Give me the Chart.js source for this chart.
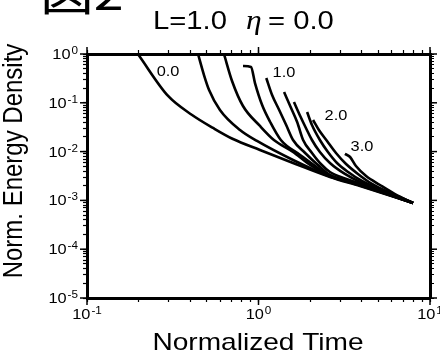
<!DOCTYPE html>
<html>
<head>
<meta charset="utf-8">
<script src="https://cdn.jsdelivr.net/npm/chart.js@4.4.1/dist/chart.umd.min.js"></script>
<style>
  html, body { margin: 0; padding: 0; background: #fff; }
</style>
</head>
<body>
<canvas id="decayChart" width="440" height="358"></canvas>
<script>
// energy decay curves: normalized time / normalized energy density
const t000 = [0.198, 0.297, 0.410, 0.543, 0.710, 1.02, 1.59, 2.61, 3.91, 7.96]
const e000 = [1.0, 0.138, 0.0562, 0.0305, 0.0181, 0.0108, 0.00584, 0.00302, 0.00197, 0.000885]
const t025 = [0.444, 0.481, 0.515, 0.596, 0.780, 0.980, 1.59, 2.61, 3.91, 7.96]
const e025 = [1.0, 0.371, 0.183, 0.0712, 0.0277, 0.0165, 0.00673, 0.00309, 0.00202, 0.000885]
const t050 = [0.629, 0.701, 0.812, 1.02, 1.23, 1.59, 2.00, 2.61, 3.91, 7.96]
const e050 = [1.0, 0.280, 0.0860, 0.0335, 0.0173, 0.00981, 0.00531, 0.00316, 0.00207, 0.000885]
const t075 = [0.812, 0.904, 0.954, 1.05, 1.17, 1.35, 1.75, 2.22, 2.61, 3.91, 7.96]
const e075 = [0.568, 0.542, 0.254, 0.0901, 0.0404, 0.0173, 0.00852, 0.00461, 0.00324, 0.00212, 0.000885]
const t100 = [1.11, 1.20, 1.32, 1.45, 1.59, 1.87, 2.22, 2.61, 3.91, 7.96]
const e100 = [0.322, 0.1445, 0.0712, 0.0351, 0.0173, 0.00936, 0.00531, 0.00332, 0.00217, 0.000885]
const t125 = [1.41, 1.53, 1.68, 1.82, 2.05, 2.31, 2.61, 3.19, 3.91, 7.96]
const e125 = [0.1665, 0.0860, 0.0404, 0.0173, 0.00936, 0.00557, 0.00382, 0.00281, 0.00222, 0.000885]
const t150 = [1.61, 1.75, 1.89, 2.05, 2.28, 2.61, 3.19, 3.91, 7.96]
const e150 = [0.1038, 0.0536, 0.0305, 0.0173, 0.00981, 0.00584, 0.00348, 0.00238, 0.000885]
const t175 = [1.92, 2.05, 2.28, 2.54, 2.87, 3.33, 4.01, 7.96]
const e175 = [0.0648, 0.0351, 0.0173, 0.00981, 0.00584, 0.00382, 0.00250, 0.000885]
const t200 = [2.08, 2.25, 2.51, 2.83, 3.24, 3.80, 4.59, 7.96]
const e200 = [0.0444, 0.0277, 0.0165, 0.00936, 0.00557, 0.00348, 0.00217, 0.000885]
const t300 = [3.19, 3.42, 3.70, 4.24, 5.11, 6.25, 7.96]
const e300 = [0.00893, 0.00775, 0.00507, 0.00316, 0.00207, 0.00135, 0.000885]

// curve labels and where they sit
const labelText = ['0.0', '1.0', '2.0', '3.0']
const labelTime = [0.297, 1.408, 2.831, 4.013]
const labelEnergy = [0.449, 0.428, 0.0562, 0.0130]

// decade tick labels (powers of ten)
const xTickExps = [-1, 0, 1]
const yTickExps = [0, -1, -2, -3, -4, -5]

const curves = [
    [t000, e000], [t025, e025], [t050, e050], [t075, e075], [t100, e100],
    [t125, e125], [t150, e150], [t175, e175], [t200, e200], [t300, e300]
]

const STRETCH = 1.17
const SANS = '"Liberation Sans", Arial, Helvetica, sans-serif'

function logTicks(min, max){
    const ticks = []
    for(let e = Math.floor(Math.log10(min)); e <= Math.ceil(Math.log10(max)); e++){
        for(let s = 1; s <= 9; s++){
            const v = s * Math.pow(10, e)
            if(v >= min * 0.999 && v <= max * 1.001) ticks.push({value: v, major: s === 1})
        }
    }
    return ticks
}

function logAxis(position, min, max){
    return {
        type: 'logarithmic',
        position,
        min,
        max,
        afterBuildTicks: scale => { scale.ticks = logTicks(min, max) },
        ticks: {display: false, autoSkip: false},
        grid: {
            display: true,
            drawOnChartArea: false,
            drawTicks: true,
            tickLength: 4,
            tickColor: '#000',
            tickWidth: 1.2
        },
        border: {display: true, color: '#000', width: 3}
    }
}

// font is a full css font string, e.g. '14px Arial'
function drawText(ctx, text, x, y, font, align){
    ctx.save()
    ctx.translate(x, y)
    ctx.scale(STRETCH, 1)
    ctx.font = font
    ctx.textAlign = align
    ctx.textBaseline = 'alphabetic'
    ctx.fillText(text, 0, 0)
    ctx.restore()
}

function textWidth(ctx, text, font){
    ctx.save()
    ctx.font = font
    const w = ctx.measureText(text).width * STRETCH
    ctx.restore()
    return w
}

function drawPower(ctx, exp, x, y, align){
    const expText = String(exp)
    const baseFont = `14px ${SANS}`
    const expFont = `10px ${SANS}`
    const baseW = textWidth(ctx, '10', baseFont)
    const expW = textWidth(ctx, expText, expFont)
    const total = baseW + 1 + expW
    let start = x - total / 2
    if(align === 'right') start = x - total
    drawText(ctx, '10', start, y, baseFont, 'left')
    drawText(ctx, expText, start + baseW + 1, y - 5, expFont, 'left')
}

const annotate = {
    id: 'annotate',
    afterDraw(chart){
        const {ctx, chartArea: a, scales: {x, y}} = chart
        ctx.save()
        ctx.strokeStyle = '#000'
        ctx.fillStyle = '#000'
        ctx.lineWidth = 1.5
        const line = (x1, y1, x2, y2) => { ctx.beginPath(); ctx.moveTo(x1, y1); ctx.lineTo(x2, y2); ctx.stroke() }

        // longer marks at each decade, all four sides
        xTickExps.forEach(e => {
            const px = x.getPixelForValue(Math.pow(10, e))
            line(px, a.bottom, px, a.bottom + 7)
            line(px, a.top, px, a.top - 7)
            drawPower(ctx, e, px, a.bottom + 21, 'center')
        })
        yTickExps.forEach(e => {
            const py = y.getPixelForValue(Math.pow(10, e))
            line(a.left - 7, py, a.left, py)
            line(a.right, py, a.right + 7, py)
            drawPower(ctx, e, a.left - 9, py + 5, 'right')
        })

        // curve labels
        labelText.forEach((txt, i) => {
            const px = x.getPixelForValue(labelTime[i])
            const py = y.getPixelForValue(labelEnergy[i])
            drawText(ctx, txt, px, py + 5, `14px ${SANS}`, 'center')
        })

        // titles
        drawText(ctx, 'L=1.0', 153, 29, `25px ${SANS}`, 'left')
        drawText(ctx, 'η', 246, 29, 'italic 27px "Liberation Serif", "Times New Roman", serif', 'left')
        drawText(ctx, '= 0.0', 268, 29, `25px ${SANS}`, 'left')
        drawText(ctx, 'Normalized Time', 258, 350, `24px ${SANS}`, 'center')

        ctx.save()
        ctx.translate(22, 161)
        ctx.scale(STRETCH, 1)
        ctx.rotate(-Math.PI / 2)
        ctx.font = `24px ${SANS}`
        ctx.textAlign = 'center'
        ctx.fillText('Norm. Energy Density', 0, 0)
        ctx.restore()

        // figure number, cut off at the top edge
        drawText(ctx, '図2', 40, 10, '46px "Noto Sans CJK JP", sans-serif', 'left')
        ctx.restore()
    }
}

document.addEventListener('DOMContentLoaded', () => {
    const context = document.getElementById('decayChart').getContext('2d')

    new Chart(context, {
        type: 'line',
        data: {
            datasets: curves.map(([times, energies]) => ({
                data: times.map((t, i) => ({x: t, y: energies[i]})),
                borderColor: '#000',
                borderWidth: 2.6,
                pointRadius: 0,
                fill: false,
                cubicInterpolationMode: 'monotone'
            }))
        },
        options: {
            responsive: false,
            animation: false,
            devicePixelRatio: 1,
            parsing: false,
            layout: {padding: {left: 83, right: 6, top: 50, bottom: 56}},
            plugins: {
                legend: {display: false},
                tooltip: {enabled: false}
            },
            scales: {
                x: logAxis('bottom', 0.1, 10),
                xTop: logAxis('top', 0.1, 10),
                y: logAxis('left', 1e-5, 1),
                yRight: logAxis('right', 1e-5, 1)
            }
        },
        plugins: [annotate]
    })
})
</script>
</body>
</html>
